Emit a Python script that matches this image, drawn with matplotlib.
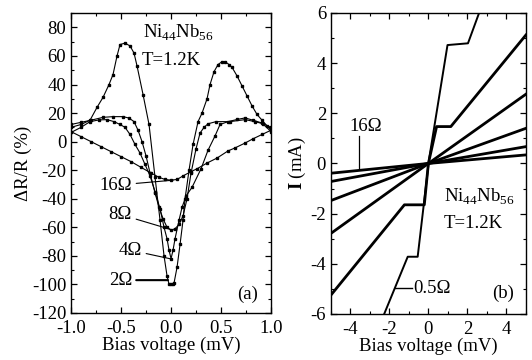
import numpy as np
import matplotlib
matplotlib.use("Agg")
import matplotlib.pyplot as plt

plt.rcParams['font.family'] = ['Liberation Serif', 'DejaVu Serif']
plt.rcParams['mathtext.fontset'] = 'custom'
plt.rcParams['mathtext.rm'] = 'Liberation Serif'
plt.rcParams['mathtext.bf'] = 'Liberation Serif:bold'
plt.rcParams['axes.unicode_minus'] = False

# ---- panel (a): dR/R vs bias, four contacts ----
x_2 = [-1.0, -0.9, -0.81, -0.74, -0.68, -0.62, -0.58, -0.54, -0.51, -0.46, -0.41, -0.37,
       -0.34, -0.28, -0.22, -0.16, -0.11, -0.07, -0.04, -0.02, 0.0, 0.02, 0.03, 0.06,
       0.09, 0.12, 0.14, 0.18, 0.22, 0.27, 0.31, 0.36, 0.39, 0.43, 0.47, 0.51, 0.54,
       0.58, 0.61, 0.66, 0.71, 0.76, 0.81, 0.86, 0.91, 0.96, 1.0]
y_2 = [10, 12, 15, 24, 31, 40, 47, 60, 68, 69, 67, 62,
       53, 33, 12, -25, -55, -80, -94, -100, -100, -100, -99, -88,
       -72, -55, -40, -20, -2, 14, 20, 30, 40, 49, 54, 56, 56,
       54, 52, 46, 39, 32, 25, 19, 15, 11, 8]

x_4 = [-1.0, -0.9, -0.81, -0.72, -0.64, -0.57, -0.51, -0.46, -0.41, -0.36, -0.31, -0.26,
       -0.21, -0.16, -0.11, -0.07, -0.04, -0.02, 0.0, 0.02, 0.04, 0.08, 0.11, 0.15,
       0.21, 0.3, 0.37, 0.44, 0.49, 0.57, 0.66, 0.74, 0.82, 0.91, 1.0]
y_4 = [6.4, 10, 14, 15.2, 15.4, 14, 12, 10, 5, -2, -8, -16,
       -24, -35, -47, -60, -68, -76, -82, -76, -68, -55, -46, -38,
       -32, -19, -6, 4, 12, 14, 15.5, 16.6, 15, 13, 7]

x_8 = [-1.0, -0.9, -0.8, -0.68, -0.58, -0.48, -0.42, -0.37, -0.33, -0.29, -0.25, -0.21,
       -0.16, -0.12, -0.08, -0.04, 0.0, 0.04, 0.08, 0.12, 0.16, 0.2, 0.25, 0.29,
       0.33, 0.37, 0.45, 0.59, 0.74, 0.84, 0.92, 1.0]
y_8 = [12, 13.5, 15, 17, 17.5, 17.5, 16.5, 14, 8, 0, -10, -22,
       -36, -46, -54, -60, -62, -61, -58, -52, -40, -22, -5, 6,
       10, 12.5, 14, 14, 15.4, 14, 12.5, 10]

x_16 = [-1.0, -0.9, -0.8, -0.7, -0.6, -0.5, -0.4, -0.3, -0.2, -0.12, -0.06, 0.0,
        0.06, 0.12, 0.2, 0.26, 0.36, 0.46, 0.57, 0.64, 0.74, 0.82, 0.91, 1.0]
y_16 = [7, 3.5, 0, -3.5, -7, -10.5, -14, -18, -22, -25, -26.5, -27,
        -26.5, -24, -21, -19, -15, -11.5, -6.5, -4.4, -1, 2, 5, 8]

# ---- panel (b): I-V curves ----
v_16 = [-5, 0, 5]
i_16 = [-0.39, 0, 0.34]
v_8 = [-5, 0, 5]
i_8 = [-0.72, 0, 0.67]
v_4 = [-5, 0, 5]
i_4 = [-1.48, 0, 1.4]
v_2 = [-5, 0, 5]
i_2 = [-2.79, 0, 2.76]
v_1 = [-5, -1.23, -0.21, 0, 0.42, 1.15, 5]
i_1 = [-5.25, -1.65, -1.65, 0, 1.47, 1.47, 5.12]
v_05 = [-2.6, -2.25, -1.06, -0.55, 0.04, 0.98, 2.03, 2.6, 2.9]
i_05 = [-6.6, -5.97, -3.72, -3.72, 0.2, 4.72, 4.79, 6.0, 6.6]

fig = plt.figure(figsize=(5.32, 3.6), dpi=100)
ax1 = fig.add_axes([0.1335, 0.1306, 0.376, 0.833])
ax2 = fig.add_axes([0.622, 0.128, 0.3665, 0.836])

for ax in (ax1, ax2):
    ax.tick_params(which='both', direction='in', top=True, right=True, labelsize=13.5)
    ax.tick_params(which='major', length=4.5, width=0.9)
    ax.tick_params(which='minor', length=2.5, width=0.8)
    ax.tick_params(axis='x', pad=5)
    for s in ax.spines.values():
        s.set_linewidth(1.0)

# panel (a)
for xs, ys in [(x_16, y_16), (x_8, y_8), (x_4, y_4), (x_2, y_2)]:
    ax1.plot(xs, ys, color='black', lw=0.8, marker='s', ms=1.6)
ax1.set_xlim(-1, 1)
ax1.set_ylim(-120, 90)
ax1.set_xticks(np.arange(-1, 1.01, 0.5))
ax1.set_xticks(np.arange(-1, 1.01, 0.25), minor=True)
ax1.set_yticks(np.arange(-120, 81, 20))
ax1.set_yticks(np.arange(-120, 91, 10), minor=True)
ax1.set_xticklabels(['-1.0', '-0.5', '0.0', '0.5', '1.0'])
ax1.set_yticklabels([str(v) for v in range(-120, 81, 20)])
ax1.set_xlabel('Bias voltage (mV)', fontsize=13.5, labelpad=0)
ax1.set_ylabel('ΔR/R (%)', fontsize=13.5, labelpad=0)

lbl = dict(fontsize=13.5, va='center')
ax1.annotate('16Ω', xy=(0.02, -27), xytext=(-0.39, -30.5), ha='right',
             arrowprops=dict(arrowstyle='-', lw=0.8, color='black', shrinkA=1, shrinkB=0), **lbl)
ax1.annotate('8Ω', xy=(0.02, -62), xytext=(-0.39, -51), ha='right',
             arrowprops=dict(arrowstyle='-', lw=0.8, color='black', shrinkA=1, shrinkB=0), **lbl)
ax1.annotate('4Ω', xy=(-0.01, -82), xytext=(-0.29, -76), ha='right',
             arrowprops=dict(arrowstyle='-', lw=0.8, color='black', shrinkA=1, shrinkB=0), **lbl)
ax1.annotate('2Ω', xy=(-0.03, -97), xytext=(-0.39, -97), ha='right',
             arrowprops=dict(arrowstyle='-', lw=1.5, color='black', shrinkA=1, shrinkB=0), **lbl)
ax1.text(-0.28, 76, 'Ni$_{\\mathregular{44}}$Nb$_{\\mathregular{56}}$', fontsize=13.5, va='center')
ax1.text(-0.29, 57, 'T=1.2K', fontsize=13.5, va='center')
ax1.text(0.77, -107, '(a)', fontsize=13.5, ha='center', va='center')

# panel (b)
for vs, cs in [(v_16, i_16), (v_8, i_8), (v_4, i_4), (v_2, i_2), (v_1, i_1)]:
    ax2.plot(vs, cs, color='black', lw=2.0)
ax2.plot(v_05, i_05, color='black', lw=1.4)
ax2.set_xlim(-5, 5)
ax2.set_ylim(-6, 6)
ax2.set_xticks(np.arange(-4, 5, 2))
ax2.set_xticks(np.arange(-5, 6, 1), minor=True)
ax2.set_yticks(np.arange(-6, 7, 2))
ax2.set_yticks(np.arange(-6, 7, 1), minor=True)
ax2.set_xlabel('Bias voltage (mV)', fontsize=13.5, labelpad=0)
ax2.set_ylabel('$\\mathbf{I}$ (mA)', fontsize=13.5, labelpad=2)

ax2.text(-3.24, 1.47, '16Ω', fontsize=13.5, ha='center', va='center')
ax2.plot([-3.56, -3.56], [1.1, -0.2], color='black', lw=0.9)
ax2.plot([-1.73, -0.85], [-4.98, -4.98], color='black', lw=1.0)
ax2.text(-0.8, -4.98, '0.5Ω', fontsize=13.5, va='center', ha='left')
ax2.text(0.79, -1.32, 'Ni$_{\\mathregular{44}}$Nb$_{\\mathregular{56}}$', fontsize=13.5, va='center')
ax2.text(0.79, -2.38, 'T=1.2K', fontsize=13.5, va='center')
ax2.text(3.85, -5.17, '(b)', fontsize=13.5, ha='center', va='center')

plt.savefig('out.png', dpi=100)
